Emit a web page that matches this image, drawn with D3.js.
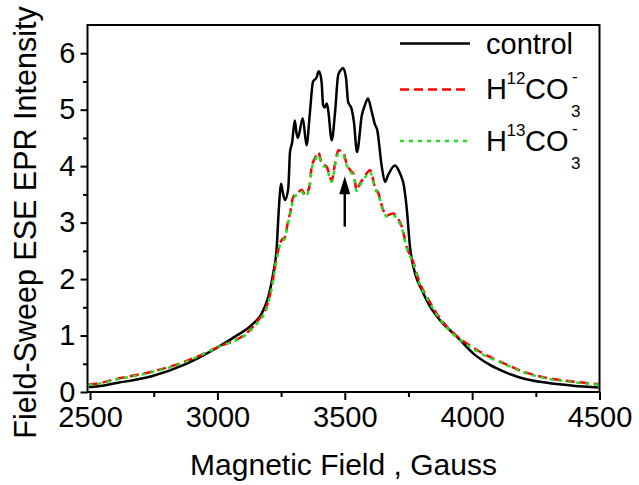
<!DOCTYPE html>
<html><head><meta charset="utf-8">
<script src="https://cdn.jsdelivr.net/npm/d3@7/dist/d3.min.js"></script>
<style>body{margin:0;background:#fff}text{font-family:"Liberation Sans",Arial,sans-serif;fill:#000}</style>
</head><body><svg id="c" width="639" height="485"></svg>
<script>
// ---- data ----
const controlField = [2495,2500,2611,2742,2873,3004,3069,3135,3174,3200,3219,3233,3240,3246,3250,3256,3265,3278,3285,3293,3304,3310,3316,3335,3350,3363,3375,3390,3395,3399,3409,3415,3422,3429,3434,3449,3462,3474,3484,3493,3505,3513,3527,3536,3548,3567,3579,3591,3606,3619,3627,3645,3658,3670,3697,3712,3723,3730,3743,3756,3776,3802,3835,3874,3940,4005,4070,4136,4201,4267,4332,4397,4495];
const controlValue = [0.09,0.09,0.165,0.28,0.49,0.80,0.98,1.19,1.39,1.69,2.10,2.57,3.16,3.55,3.69,3.55,3.40,3.60,4.25,4.41,4.81,4.60,4.50,4.85,4.37,4.94,5.49,5.58,5.66,5.68,5.49,5.08,5.04,5.11,5.02,4.46,4.96,5.61,5.70,5.74,5.56,5.14,5.01,4.78,4.25,4.90,5.08,5.20,4.96,4.73,4.65,4.00,3.72,3.84,4.01,3.92,3.80,3.70,3.26,2.57,2.10,1.81,1.51,1.27,0.98,0.68,0.48,0.34,0.24,0.18,0.14,0.11,0.08];
const bicarbField = [2495,2500,2611,2742,2873,3004,3121,3160,3193,3213,3233,3245,3252,3265,3278,3285,3298,3314,3331,3344,3361,3370,3383,3396,3410,3429,3449,3462,3475,3494,3505,3521,3534,3547,3560,3586,3599,3619,3632,3651,3665,3691,3704,3724,3743,3769,3795,3822,3861,3913,3979,4044,4123,4201,4293,4385,4495];
const h12Value = [0.14,0.136,0.24,0.36,0.54,0.80,1.07,1.27,1.51,1.86,2.39,2.62,2.69,2.74,3.04,3.16,3.46,3.52,3.58,3.50,3.63,3.99,4.14,4.25,4.05,3.99,3.75,4.05,4.28,4.25,4.08,3.93,3.87,3.58,3.69,3.87,3.93,3.63,3.52,3.22,3.13,3.16,3.10,2.93,2.57,2.30,1.92,1.69,1.39,1.10,0.86,0.68,0.51,0.36,0.25,0.19,0.14];
const h13Value = [0.13,0.13,0.23,0.35,0.53,0.80,1.05,1.24,1.48,1.83,2.35,2.60,2.66,2.72,3.00,3.13,3.42,3.50,3.55,3.47,3.60,3.95,4.10,4.20,4.03,3.96,3.72,4.02,4.22,4.20,4.05,3.90,3.84,3.56,3.66,3.84,3.90,3.60,3.49,3.20,3.11,3.13,3.07,2.90,2.55,2.28,1.90,1.67,1.37,1.08,0.84,0.66,0.50,0.35,0.24,0.18,0.13];
const xTicks = [2500,3000,3500,4000,4500];
const xMinorTicks = [2750,3250,3750,4250];
const yTicks = [0,1,2,3,4,5,6];
const yMinorTicks = [0.5,1.5,2.5,3.5,4.5,5.5];
const arrowField = 3500, arrowFrom = 2.93, arrowTo = 3.82;

// ---- layout ----
const L = 87.5, R = 599.5, T = 25, B = 392;
const svg = d3.select("#c");
const x = d3.scaleLinear().domain([2490, 4500]).range([L, R]);
const y = d3.scaleLinear().domain([0, 6.5]).range([B, T]);

const line = d3.line().curve(d3.curveMonotoneX).x(d => x(d[0])).y(d => y(d[1]));
const plot = svg.append("g");
plot.append("clipPath").attr("id","clip").append("rect").attr("x",L).attr("y",T).attr("width",R-L).attr("height",B-T);
const g = plot.append("g").attr("clip-path","url(#clip)");

g.append("path").datum(controlField.map((f,i)=>[f,controlValue[i]]))
  .attr("d", line).attr("fill","none").attr("stroke","#000").attr("stroke-width",2.5).attr("stroke-linejoin","round");
g.append("path").datum(bicarbField.map((f,i)=>[f,h12Value[i]]))
  .attr("d", line).attr("fill","none").attr("stroke","#ff0000").attr("stroke-width",2.5).attr("stroke-dasharray","9,5");
g.append("path").datum(bicarbField.map((f,i)=>[f,h13Value[i]]))
  .attr("d", line).attr("fill","none").attr("stroke","#22dd22").attr("stroke-width",2.5).attr("stroke-dasharray","4,5");

// arrow
svg.append("line").attr("x1",x(arrowField)).attr("x2",x(arrowField))
  .attr("y1",y(arrowFrom)).attr("y2",y(arrowTo)+14).attr("stroke","#000").attr("stroke-width",2.5);
svg.append("path").attr("d",`M${x(arrowField)},${y(arrowTo)} L${x(arrowField)-5.5},${y(arrowTo)+18} L${x(arrowField)+5.5},${y(arrowTo)+18} Z`).attr("fill","#000");

// frame
svg.append("rect").attr("x",L).attr("y",T).attr("width",R-L).attr("height",B-T)
  .attr("fill","none").attr("stroke","#000").attr("stroke-width",2);

// axes
function styleAxis(sel){
  sel.select(".domain").remove();
  sel.selectAll(".tick line").attr("stroke","#000").attr("stroke-width",2);
}
const xa = svg.append("g").attr("transform",`translate(0,${B})`)
  .call(d3.axisBottom(x).tickValues(xTicks).tickSize(8).tickPadding(6).tickFormat(d3.format("d")));
styleAxis(xa);
xa.selectAll("text").attr("font-size",29).attr("font-family","Liberation Sans, Arial").attr("fill","#000");
const xm = svg.append("g").attr("transform",`translate(0,${B})`)
  .call(d3.axisBottom(x).tickValues(xMinorTicks).tickSize(5).tickFormat(""));
styleAxis(xm);
const ya = svg.append("g").attr("transform",`translate(${L},0)`)
  .call(d3.axisLeft(y).tickValues(yTicks).tickSize(7).tickPadding(5).tickFormat(d3.format("d")));
styleAxis(ya);
ya.selectAll("text").attr("font-size",29).attr("font-family","Liberation Sans, Arial").attr("fill","#000");
const ym = svg.append("g").attr("transform",`translate(${L},0)`)
  .call(d3.axisLeft(y).tickValues(yMinorTicks).tickSize(4.5).tickFormat(""));
styleAxis(ym);

// axis titles
svg.append("text").attr("x",(L+R)/2).attr("y",475).attr("text-anchor","middle")
  .attr("font-size",30).text("Magnetic Field , Gauss");
svg.append("text").attr("transform",`translate(36,${(T+B)/2+14}) rotate(-90)`).attr("text-anchor","middle")
  .attr("font-size",30.5).text("Field-Sweep ESE EPR Intensity");

// legend
const lg = svg.append("g");
lg.append("line").attr("x1",400).attr("x2",470).attr("y1",43.5).attr("y2",43.5).attr("stroke","#000").attr("stroke-width",2.5);
lg.append("text").attr("x",486).attr("y",54).attr("font-size",29).text("control");
lg.append("line").attr("x1",400).attr("x2",470).attr("y1",89.5).attr("y2",89.5).attr("stroke","#ff0000").attr("stroke-width",2.5).attr("stroke-dasharray","9,5");
lg.append("line").attr("x1",400).attr("x2",470).attr("y1",141).attr("y2",141).attr("stroke","#22dd22").attr("stroke-width",2.5).attr("stroke-dasharray","4,5");
function bicarbLabel(iso, by){
  lg.append("text").attr("x",486).attr("y",by).attr("font-size",29).text("H");
  lg.append("text").attr("x",506.5).attr("y",by-15).attr("font-size",17).text(iso);
  lg.append("text").attr("x",525).attr("y",by).attr("font-size",29).text("CO");
  lg.append("text").attr("x",572).attr("y",by-17).attr("font-size",17).text("-");
  lg.append("text").attr("x",571).attr("y",by+18).attr("font-size",17).text("3");
}
bicarbLabel("12", 99);
bicarbLabel("13", 151);
</script></body></html>
